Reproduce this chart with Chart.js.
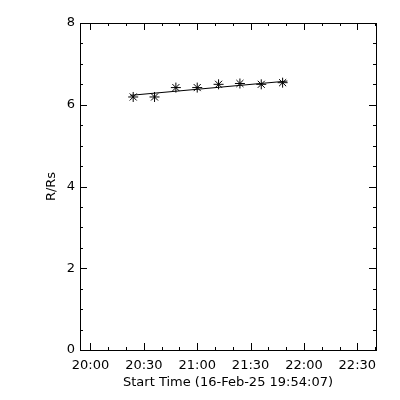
<!DOCTYPE html>
<html>
<head>
<meta charset="utf-8">
<script src="https://cdn.jsdelivr.net/npm/chart.js@4/dist/chart.umd.min.js"></script>
<style>
  body { margin: 0; background: #fff; }
  #wrap { width: 400px; height: 400px; }
</style>
</head>
<body>
<div id="wrap"><canvas id="c" width="400" height="400"></canvas></div>
<script>
var obsTimes = ["20:24", "20:36", "20:48", "21:00", "21:12", "21:24", "21:36", "21:48"];
var heights = [6.19, 6.19, 6.42, 6.42, 6.50, 6.52, 6.50, 6.54];

// the straight fit line, its two ends as seen on the plot
var fitTimes = ["20:22.5", "21:50.7"];
var fitHeights = [6.23, 6.58];

var xTickLabels = ["20:00", "20:30", "21:00", "21:30", "22:00", "22:30"];
var yTickLabels = [0, 2, 4, 6, 8];
var startLabel = "Start Time (16-Feb-25 19:54:07)";

// minutes after 20:00
function toMin(s) {
    var p = s.split(":");
    return (parseInt(p[0]) - 20) * 60 + parseFloat(p[1]);
}

var pts = obsTimes.map(function (t, i) { return { x: toMin(t), y: heights[i] }; });
var fitPts = fitTimes.map(function (t, i) { return { x: toMin(t), y: fitHeights[i] }; });

var font = { family: "'DejaVu Sans', sans-serif", size: 13 };

// IDL style box with inward ticks on all four sides
var frame = {
    id: 'frame',
    afterDraw: function (chart) {
        var ctx = chart.ctx, a = chart.chartArea;
        var xs = chart.scales.x, ys = chart.scales.y;
        ctx.save();
        ctx.strokeStyle = '#000';
        ctx.lineWidth = 1;
        ctx.strokeRect(Math.round(a.left) + 0.5, Math.round(a.top) + 0.5,
            Math.round(a.right - a.left), Math.round(a.bottom - a.top));
        ctx.beginPath();
        xs.ticks.forEach(function (t) {
            var px = Math.round(xs.getPixelForValue(t.value)) + 0.5;
            var len = (t.value % 30 === 0) ? 7 : 3;
            ctx.moveTo(px, a.bottom); ctx.lineTo(px, a.bottom - len);
            ctx.moveTo(px, a.top); ctx.lineTo(px, a.top + len);
        });
        ys.ticks.forEach(function (t) {
            var py = Math.round(ys.getPixelForValue(t.value)) + 0.5;
            var len = (yTickLabels.indexOf(t.value) >= 0) ? 7 : 3;
            ctx.moveTo(a.left, py); ctx.lineTo(a.left + len, py);
            ctx.moveTo(a.right, py); ctx.lineTo(a.right - len, py);
        });
        ctx.stroke();
        ctx.restore();
    }
};

new Chart(document.getElementById('c'), {
    type: 'scatter',
    data: {
        datasets: [{
            data: pts,
            pointStyle: 'star',
            pointRadius: 5,
            pointBorderWidth: 1,
            borderColor: '#000',
            backgroundColor: '#000',
            showLine: false
        }, {
            data: fitPts,
            showLine: true,
            pointRadius: 0,
            borderColor: '#000',
            borderWidth: 1
        }]
    },
    plugins: [frame],
    options: {
        responsive: false,
        animation: false,
        layout: { padding: { left: 0, top: 23, right: 24, bottom: 0 } },
        plugins: { legend: { display: false }, tooltip: { enabled: false } },
        scales: {
            x: {
                type: 'linear',
                min: toMin("19:54.1"),
                max: 160.5,
                grid: { display: false, drawTicks: false },
                border: { display: false },
                afterBuildTicks: function (s) {
                    var t = [];
                    for (var v = 0; v <= 160; v += 10) t.push({ value: v });
                    s.ticks = t;
                },
                afterFit: function (s) { s.height = 50; },
                ticks: {
                    autoSkip: false,
                    maxRotation: 0,
                    color: '#000',
                    font: font,
                    padding: 8,
                    callback: function (v) {
                        if (v % 30 !== 0) return '';
                        return xTickLabels[v / 30];
                    }
                },
                title: {
                    display: true,
                    text: startLabel,
                    color: '#000',
                    font: font,
                    padding: { top: 2, bottom: 10 }
                }
            },
            y: {
                min: 0,
                max: 8,
                grid: { display: false, drawTicks: false },
                border: { display: false },
                afterBuildTicks: function (s) {
                    var t = [];
                    for (var v = 0; v <= 8; v += 0.5) t.push({ value: v });
                    s.ticks = t;
                },
                afterFit: function (s) { s.width = 80; },
                ticks: {
                    autoSkip: false,
                    color: '#000',
                    font: font,
                    padding: 5,
                    callback: function (v) {
                        return yTickLabels.indexOf(v) >= 0 ? String(v) : '';
                    }
                },
                title: {
                    display: true,
                    text: 'R/Rs',
                    color: '#000',
                    font: font,
                    padding: { top: 44, bottom: 0 }
                }
            }
        }
    }
});
</script>
</body>
</html>
